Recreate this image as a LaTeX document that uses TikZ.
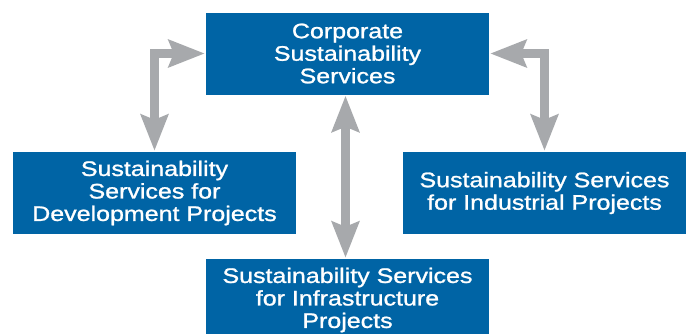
\documentclass[tikz,border=0pt]{standalone}
\usepackage{xcolor}
\usepackage{fontspec}
\setmainfont{Liberation Sans}[FakeStretch=1.19, FakeBold=1.2]
\usepackage{tikz}
\usetikzlibrary{arrows.meta, calc}

\definecolor{boxblue}{HTML}{0064A5}
\definecolor{linkgray}{HTML}{A7A9AC}

\begin{document}
\begin{tikzpicture}[x=1pt, y=-1pt,
	service/.style={rectangle, fill=boxblue, text=white, align=center,
		minimum width=283pt, minimum height=82pt, inner sep=0pt,
		font=\fontsize{21}{22.5}\selectfont},
	link/.style={draw=linkgray, line width=9pt, line join=miter,
		{Stealth[length=36pt, width=27pt, inset=5pt]}-{Stealth[length=36pt, width=27pt, inset=5pt]},
		shorten <=1pt, shorten >=1pt}]

	\useasboundingbox (0,0) rectangle (690,333);

	\node [service] (corporate) at (347.5,53.5) {Corporate\\Sustainability\\Services};
	\node [service] (development) at (154.5,193) {Sustainability\\Services for\\Development Projects};
	\node [service] (industrial) at (544.5,193) {Sustainability Services\\for Industrial Projects};
	\node [service] (infrastructure) at (347.5,300) {Sustainability Services\\for Infrastructure\\Projects};

	\draw [link] (corporate.west) -| (development.north);
	\draw [link] (corporate.east) -| (industrial.north);
	\draw [link] ($(corporate.south)+(-2,0)$) -- ($(infrastructure.north)+(-2,0)$);

\end{tikzpicture}
\end{document}
